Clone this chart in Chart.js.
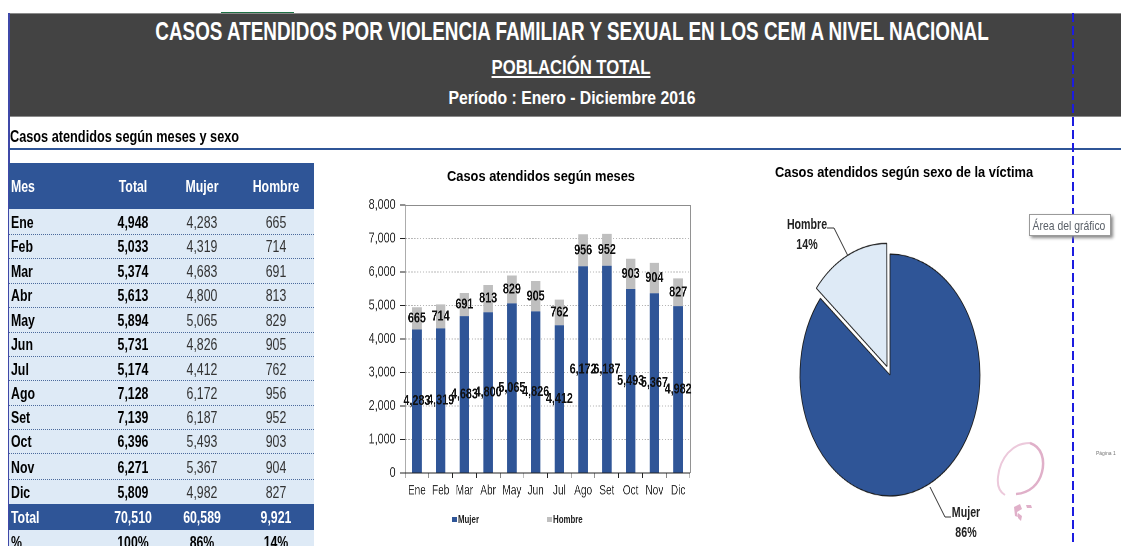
<!DOCTYPE html>
<html lang="es">
<head>
<meta charset="utf-8">
<script src="https://cdn.jsdelivr.net/npm/chart.js@4"></script>
<style>
html,body{margin:0;padding:0;background:#fff;width:1121px;height:546px;overflow:hidden}
body{position:relative;font-family:"Liberation Sans",Arial,sans-serif;color:#000}
.abs{position:absolute;white-space:nowrap}
.c{transform:translate(-50%,-50%) scaleX(var(--sx,.77))}
.l{transform:translateY(-50%) scaleX(var(--sx,.77));transform-origin:0 50%}
#wrap{position:absolute;inset:0;filter:blur(.35px)}
canvas{position:absolute}
</style>
</head>
<body>
<div id="wrap">
  <div class="abs" style="left:221px;top:12px;width:73px;height:2px;background:#1e7145"></div>
  <div class="abs" style="left:9px;top:13px;width:1112px;height:104px;background:#434343;border-top:1px solid #8a8a8a;border-bottom:1px solid #8a8a8a;box-sizing:border-box"></div>
  <div class="abs c" style="--sx:.755;left:572px;top:31px;color:#fff;font-weight:700;font-size:25px">CASOS ATENDIDOS POR VIOLENCIA FAMILIAR Y SEXUAL EN LOS CEM A NIVEL NACIONAL</div>
  <div class="abs c" style="--sx:.795;left:571px;top:67px;color:#fff;font-weight:700;font-size:21px;text-decoration:underline">POBLACIÓN TOTAL</div>
  <div class="abs c" style="--sx:.83;left:572px;top:98px;color:#fff;font-weight:700;font-size:19px">Período : Enero - Diciembre 2016</div>
  <div class="abs" style="left:8px;top:13px;width:2px;height:533px;background:#3f48a8"></div>
  <div class="abs l" style="--sx:.795;left:10px;top:137px;font-weight:700;font-size:16px">Casos atendidos según meses y sexo</div>
  <div class="abs" style="left:9px;top:148px;width:1112px;height:2px;background:#2f5597"></div>
  <div id="table"></div>

  <div class="abs c" style="--sx:.83;left:541px;top:176px;font-weight:700;font-size:15.5px">Casos atendidos según meses</div>
  <canvas id="bars" style="left:350px;top:190px"></canvas>
  <div id="legend"></div>

  <div class="abs l" style="--sx:.83;left:775px;top:172px;font-weight:700;font-size:15.5px">Casos atendidos según sexo de la víctima</div>
  <canvas id="pie" style="left:790px;top:275px;transform:scaleY(1.344);transform-origin:50% 50%"></canvas>
  <div class="abs c" style="--sx:.76;left:807px;top:224px;font-weight:700;font-size:14px;color:#222">Hombre</div>
  <div class="abs c" style="--sx:.76;left:807px;top:244px;font-weight:700;font-size:14px;color:#222">14%</div>
  <div class="abs c" style="--sx:.76;left:966px;top:512px;font-weight:700;font-size:14px;color:#222">Mujer</div>
  <div class="abs c" style="--sx:.76;left:966px;top:532px;font-weight:700;font-size:14px;color:#222">86%</div>

  <svg class="abs" style="left:0;top:0" width="1121" height="546">
    <polyline points="827,228 834,228 848,256" fill="none" stroke="#333" stroke-width="1"/>
    <polyline points="930,487 945,517 951,517" fill="none" stroke="#333" stroke-width="1"/>
    <line x1="1073" y1="13" x2="1073" y2="546" stroke="#1c1ce0" stroke-width="2" stroke-dasharray="9 4"/>
    <path d="M1030 443 C1012 443 1000 458 998 477 C997 486 1000 492 1005 495" fill="none" stroke="#ecc9db" stroke-width="2"/>
    <path d="M1030 443 C1042 447 1045 460 1042 472 C1039 484 1030 493 1016 494" fill="none" stroke="#e0b0c9" stroke-width="2.5"/>
    <path d="M1014 507 l6 -3 l2 5 l-5 3 l1 5 l-3 -1 z M1026 505 l5 0 l1 3 l-5 0 z M1018 513 l4 3 l-1 5 l-3 -3 z" fill="#e0b0c9"/>
  </svg>

  <div class="abs" style="left:1029px;top:214px;width:82px;height:22px;box-sizing:border-box;background:#fff;border:1px solid #9a9a9a;box-shadow:2px 2px 3px #888"></div>
  <div class="abs c" style="left:1069px;top:224.5px;font-size:13.5px;color:#5a6068">Área del gráfico</div>
  <div class="abs" style="left:1096px;top:450px;font-size:5px;color:#777">Página 1</div>
</div>

<script>
const months = ["Ene","Feb","Mar","Abr","May","Jun","Jul","Ago","Set","Oct","Nov","Dic"];
const totals = [4948,5033,5374,5613,5894,5731,5174,7128,7139,6396,6271,5809];
const mujer  = [4283,4319,4683,4800,5065,4826,4412,6172,6187,5493,5367,4982];
const hombre = [665,714,691,813,829,905,762,956,952,903,904,827];
const totalRow = ["Total","70,510","60,589","9,921"];
const pctRow = ["%","100%","86%","14%"];
const headerRow = ["Mes","Total","Mujer","Hombre"];
const sexLabels = ["Mujer","Hombre"];
const sexShares = [60589,9921];
const yMax = 8000;
const yStep = 1000;

const BLUE = "#2f5597", GREY = "#bfbfbf", PALE = "#deeaf6";
const fmt = n => n.toLocaleString("en-US");

/* ---------- table ---------- */
const colX = [11,133,202,276];
const rowEdges = [209,234,258.5,283,307.7,332,356.3,380.7,405,429.3,453.6,479.6,504];
const tbl = document.getElementById("table");
function box(top,h,bg,extra){
  const d=document.createElement("div");d.className="abs";
  d.style.cssText=`left:9px;top:${top}px;width:305px;height:${h}px;background:${bg};${extra||""}`;
  tbl.appendChild(d);
}
function cell(txt,col,y,color,bold){
  const d=document.createElement("div");
  d.className="abs "+(col===0?"l":"c");
  d.textContent=txt;
  d.style.cssText=`left:${colX[col]}px;top:${y}px;color:${color};font-size:16px;font-weight:${bold?700:400}`;
  tbl.appendChild(d);
}
box(163,46,BLUE);
box(209,337,PALE);
box(504,26,BLUE);
headerRow.forEach((t,i)=>cell(t,i,187,"#fff",true));
months.forEach((m,i)=>{
  const y=(rowEdges[i]+rowEdges[i+1])/2+1;
  if(i<11) box(rowEdges[i+1]-.5,0,"transparent","border-top:1px dotted #4b6a9c");
  cell(m,0,y,"#000",true);
  cell(fmt(totals[i]),1,y,"#000",true);
  cell(fmt(mujer[i]),2,y,"#333",false);
  cell(fmt(hombre[i]),3,y,"#333",false);
});
totalRow.forEach((t,i)=>cell(t,i,518,"#fff",true));
pctRow.forEach((t,i)=>cell(t,i,543,"#000",true));

/* ---------- legend ---------- */
const lg=document.getElementById("legend");
[[452,"Mujer",BLUE],[547,"Hombre",GREY]].forEach(([x,t,c])=>{
  const s=document.createElement("div");s.className="abs";
  s.style.cssText=`left:${x}px;top:517px;width:5px;height:5px;background:${c}`;lg.appendChild(s);
  const d=document.createElement("div");d.className="abs l";
  d.textContent=t;d.style.cssText=`--sx:.75;left:${x+6}px;top:519px;font-size:10.5px;font-weight:700;color:#222`;lg.appendChild(d);
});

/* ---------- bar chart: drawn wider, then narrowed by CSS so its text is condensed ---------- */
const NARROW=.72;
const FONT='"Liberation Sans",Arial,sans-serif';
const barLabels={id:"barLabels",afterDatasetsDraw(ch){
  const c=ch.ctx;c.save();
  c.font='700 15px '+FONT;c.fillStyle="#111";c.textAlign="center";c.textBaseline="middle";
  ch.data.datasets.forEach((ds,di)=>{
    ch.getDatasetMeta(di).data.forEach((el,i)=>{
      c.fillText(fmt(ds.data[i]),el.x,(el.y+el.base)/2);
    });
  });
  c.restore();
}};
const frame={id:"frame",beforeDatasetsDraw(ch){
  const {left,right,top,bottom}=ch.chartArea,c=ch.ctx;
  c.save();c.strokeStyle="#8c8c8c";c.lineWidth=1;
  c.beginPath();c.moveTo(left,top+.5);c.lineTo(right+.5,top+.5);c.lineTo(right+.5,bottom);c.stroke();
  c.restore();
}};
const bc=document.getElementById("bars");
bc.width=Math.round(350/NARROW);bc.height=356;
new Chart(bc,{
  type:"bar",
  data:{labels:months,datasets:[
    {label:"Mujer",data:mujer,backgroundColor:BLUE},
    {label:"Hombre",data:hombre,backgroundColor:GREY}
  ]},
  plugins:[frame,barLabels],
  options:{
    responsive:false,animation:false,devicePixelRatio:2,
    layout:{padding:{top:15,right:10/NARROW,left:0,bottom:0}},
    datasets:{bar:{barPercentage:.4,categoryPercentage:1}},
    plugins:{legend:{display:false},tooltip:{enabled:false},title:{display:false}},
    scales:{
      x:{stacked:true,
        afterFit(s){s.height=73},
        grid:{display:true,offset:true,drawOnChartArea:false,tickLength:5,color:"#222"},
        border:{color:"#222"},
        ticks:{font:{family:FONT,size:14},color:"#333",padding:4,maxRotation:0,autoSkip:false}},
      y:{stacked:true,min:0,max:yMax,
        afterFit(s){s.width=55/NARROW},
        grid:{color:c=>c.tick.value===0||c.tick.value===yMax?"rgba(0,0,0,0)":"#b5b5b5",
              tickColor:"#222",tickLength:7,tickBorderDash:[]},
        border:{color:"#222",dash:[2,2],display:true},
        ticks:{stepSize:yStep,font:{family:FONT,size:15},color:"#333",padding:6,callback:v=>fmt(v)}}
    }
  }
});
bc.style.width="350px";bc.style.height="356px";

/* ---------- pie chart ---------- */
const pc=document.getElementById("pie");
pc.width=200;pc.height=200;
new Chart(pc,{
  type:"pie",
  data:{labels:sexLabels,datasets:[{
    data:sexShares,
    backgroundColor:[BLUE,PALE],
    borderColor:"#1a1a1a",borderWidth:.8,
    offset:[0,28]
  }]},
  options:{
    responsive:false,animation:false,devicePixelRatio:2,
    radius:90,
    layout:{padding:0},
    plugins:{legend:{display:false},tooltip:{enabled:false}}
  }
});
pc.style.width="200px";pc.style.height="200px";
</script>
</body>
</html>
